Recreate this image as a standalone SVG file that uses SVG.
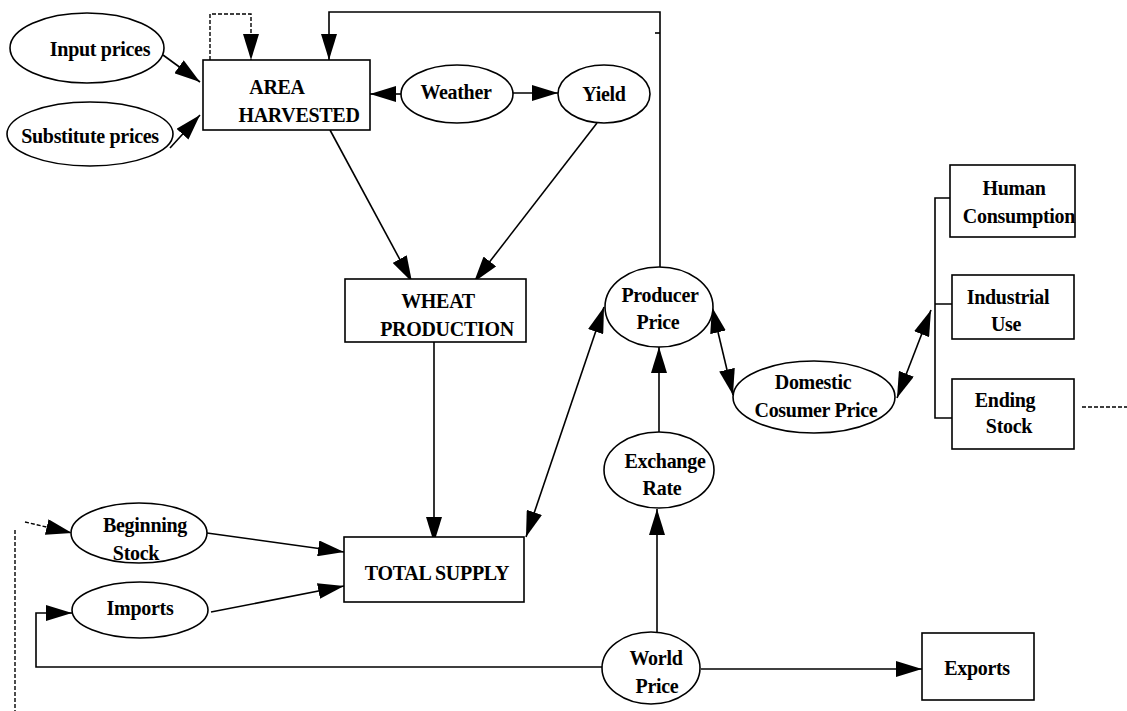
<svg xmlns="http://www.w3.org/2000/svg" width="1127" height="711" viewBox="0 0 1127 711">
<style>
.n{fill:#fff;stroke:#000;stroke-width:1.6}
.t{font-family:"Liberation Serif","Times New Roman",serif;font-weight:bold;font-size:20px;text-anchor:middle;fill:#000;letter-spacing:-0.3px}
.c{fill:none;stroke:#000;stroke-width:1.6}
.d{fill:none;stroke:#000;stroke-width:1.4;stroke-dasharray:4 2}
</style>
<defs>
<marker id="a" viewBox="0 0 26 16" refX="26" refY="8" markerWidth="26" markerHeight="16" markerUnits="userSpaceOnUse" orient="auto-start-reverse">
<path d="M0,0 L26,8 L0,16 z" fill="#000"/>
</marker>
</defs>
<rect width="1127" height="711" fill="#fff"/>
<g id="connectors">
<line class="c" x1="163" y1="55" x2="200" y2="82" marker-end="url(#a)"/>
<line class="c" x1="170" y1="148" x2="200" y2="115" marker-end="url(#a)"/>
<path class="d" d="M210,60 V14 H251 V60" marker-end="url(#a)"/>
<path class="c" d="M660,267 V12 H329 V60" marker-end="url(#a)"/>
<path class="c" d="M655,33 H660"/>
<line class="c" x1="402" y1="94" x2="370" y2="94" marker-end="url(#a)"/>
<line class="c" x1="513" y1="93" x2="558" y2="93" marker-end="url(#a)"/>
<line class="c" x1="330" y1="130" x2="412" y2="282" marker-end="url(#a)"/>
<line class="c" x1="597" y1="123" x2="474" y2="282" marker-end="url(#a)"/>
<line class="c" x1="434" y1="342" x2="434" y2="543" marker-end="url(#a)"/>
<line class="c" x1="526" y1="537" x2="604" y2="307" marker-start="url(#a)" marker-end="url(#a)"/>
<line class="c" x1="659" y1="432" x2="659" y2="347" marker-end="url(#a)"/>
<line class="c" x1="657" y1="637" x2="657" y2="509" marker-end="url(#a)"/>
<line class="c" x1="701" y1="669" x2="922" y2="669" marker-end="url(#a)"/>
<path class="c" d="M602,667 H36 V613 H72" marker-end="url(#a)"/>
<line class="c" x1="207" y1="533" x2="344" y2="552" marker-end="url(#a)"/>
<line class="c" x1="211" y1="612" x2="344" y2="586" marker-end="url(#a)"/>
<line class="d" x1="25" y1="522" x2="72" y2="533" marker-end="url(#a)"/>
<line class="d" x1="15" y1="530" x2="15" y2="711" stroke-width="2"/>
<line class="c" x1="712" y1="307" x2="733" y2="395" marker-start="url(#a)" marker-end="url(#a)"/>
<line class="c" x1="897" y1="398" x2="931" y2="310" marker-start="url(#a)" marker-end="url(#a)"/>
<path class="c" d="M950,198 H935 V418 H952 M935,304 H952"/>
<line class="d" x1="1082" y1="407" x2="1127" y2="407"/>
</g>
<g id="input-prices"><ellipse class="n" cx="87" cy="48" rx="77" ry="35"/><text class="t" x="100" y="56">Input prices</text></g>
<g id="substitute-prices"><ellipse class="n" cx="90" cy="134" rx="83" ry="32"/><text class="t" x="90" y="143">Substitute prices</text></g>
<g id="area-harvested"><rect class="n" x="203" y="60" width="167" height="70"/><text class="t" x="277" y="94">AREA</text><text class="t" x="299" y="122">HARVESTED</text></g>
<g id="weather"><ellipse class="n" cx="457" cy="94" rx="56" ry="29"/><text class="t" x="456" y="99">Weather</text></g>
<g id="yield"><ellipse class="n" cx="604" cy="94" rx="46" ry="29"/><text class="t" x="604" y="101">Yield</text></g>
<g id="wheat-production"><rect class="n" x="345" y="279" width="181" height="63"/><text class="t" x="438" y="308">WHEAT</text><text class="t" x="447" y="336">PRODUCTION</text></g>
<g id="total-supply"><rect class="n" x="344" y="537" width="180" height="65"/><text class="t" x="437" y="580">TOTAL SUPPLY</text></g>
<g id="producer-price"><ellipse class="n" cx="659" cy="307" rx="54" ry="40"/><text class="t" x="660" y="302">Producer</text><text class="t" x="658" y="329">Price</text></g>
<g id="exchange-rate"><ellipse class="n" cx="659" cy="470" rx="55" ry="38"/><text class="t" x="665" y="468">Exchange</text><text class="t" x="662" y="495">Rate</text></g>
<g id="world-price"><ellipse class="n" cx="651" cy="668" rx="49" ry="36"/><text class="t" x="656" y="665">World</text><text class="t" x="657" y="693">Price</text></g>
<g id="exports"><rect class="n" x="922" y="633" width="112" height="67"/><text class="t" x="977" y="675">Exports</text></g>
<g id="domestic-consumer-price"><ellipse class="n" cx="814" cy="397" rx="81" ry="36"/><text class="t" x="813" y="389">Domestic</text><text class="t" x="816" y="417">Cosumer Price</text></g>
<g id="human-consumption"><rect class="n" x="950" y="165" width="125" height="72"/><text class="t" x="1014" y="195">Human</text><text class="t" x="1019" y="223">Consumption</text></g>
<g id="industrial-use"><rect class="n" x="952" y="275" width="122" height="64"/><text class="t" x="1008" y="304">Industrial</text><text class="t" x="1006" y="331">Use</text></g>
<g id="ending-stock"><rect class="n" x="952" y="379" width="122" height="70"/><text class="t" x="1005" y="407">Ending</text><text class="t" x="1009" y="433">Stock</text></g>
<g id="beginning-stock"><ellipse class="n" cx="139" cy="533" rx="68" ry="30"/><text class="t" x="145" y="532">Beginning</text><text class="t" x="136" y="560">Stock</text></g>
<g id="imports"><ellipse class="n" cx="140" cy="610" rx="68" ry="28"/><text class="t" x="140" y="615">Imports</text></g>
</svg>
